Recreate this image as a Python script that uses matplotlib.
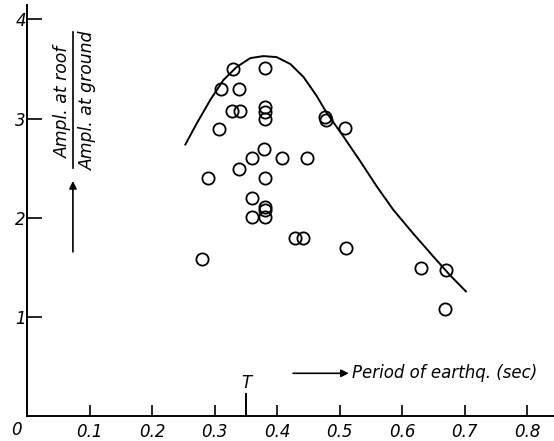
# plot.py
import numpy as np
import matplotlib
matplotlib.use("Agg")
import matplotlib.pyplot as plt

# periodo del terremoto (sec) y razon de amplitudes techo/suelo
period = [0.330, 0.381, 0.310, 0.339, 0.328, 0.341, 0.380, 0.380, 0.380, 0.307,
          0.477, 0.478, 0.509, 0.379, 0.360, 0.408, 0.448, 0.339, 0.290, 0.380,
          0.360, 0.380, 0.380, 0.359, 0.380, 0.429, 0.441, 0.510, 0.279,
          0.630, 0.670, 0.669]
ratio = [3.50, 3.51, 3.30, 3.30, 3.08, 3.08, 3.12, 3.07, 3.00, 2.90,
         3.02, 2.99, 2.91, 2.69, 2.60, 2.60, 2.60, 2.49, 2.40, 2.40,
         2.20, 2.11, 2.08, 2.01, 2.01, 1.80, 1.80, 1.70, 1.59,
         1.50, 1.48, 1.08]

# curva teorica
curve_x = [0.253, 0.271, 0.293, 0.314, 0.335, 0.357, 0.378, 0.399, 0.421, 0.442,
           0.463, 0.479, 0.506, 0.533, 0.559, 0.586, 0.618, 0.650, 0.677, 0.702]
curve_y = [2.74, 2.95, 3.19, 3.39, 3.52, 3.61, 3.63, 3.62, 3.55, 3.42,
           3.23, 3.06, 2.82, 2.57, 2.32, 2.08, 1.84, 1.61, 1.42, 1.26]

xticks = [0.1, 0.2, 0.3, 0.4, 0.5, 0.6, 0.7, 0.8]
xticklabels = ["0.1", "0.2", "0.3", "0.4", "0.5", "0.6", "0.7", "0.8"]
yticks = [1, 2, 3, 4]
yticklabels = ["1", "2", "3", "4"]
T_period = 0.35

fig = plt.figure(figsize=(5.54, 4.41), dpi=100)
ax = fig.add_axes([0.0493, 0.0556, 0.9507, 0.932])
ax.set_xlim(0, 0.843)
ax.set_ylim(0, 4.14)

ax.plot(curve_x, curve_y, color="black", lw=1.4)
ax.plot(period, ratio, "o", mfc="none", mec="black", ms=8.8, mew=1.3)

for s in ["top", "right"]:
    ax.spines[s].set_visible(False)
ax.spines["left"].set_linewidth(1.4)
ax.spines["bottom"].set_linewidth(1.4)

ax.set_xticks(xticks)
ax.set_xticklabels(xticklabels, fontstyle="italic", fontsize=12)
ax.set_yticks(yticks)
ax.set_yticklabels(yticklabels, fontstyle="italic", fontsize=12)
ax.tick_params(axis="x", direction="in", length=8, width=1.2, pad=5)
ax.tick_params(axis="y", direction="in", length=11, width=1.2, pad=1)

# origen
ax.text(-0.017, -0.136, "0", fontstyle="italic", fontsize=12, ha="center", va="center",
        clip_on=False)

# marca del periodo T
ax.plot([T_period, T_period], [0, 0.23], color="black", lw=1.4, clip_on=False)
ax.text(T_period, 0.34, "T", fontstyle="italic", fontsize=12, ha="center", va="center")

# etiqueta eje x con flecha
ax.annotate("", xy=(0.519, 0.435), xytext=(0.421, 0.435),
            arrowprops=dict(arrowstyle="-|>", color="black", lw=1.2, mutation_scale=11))
ax.text(0.519, 0.435, "Period of earthq. (sec)", fontstyle="italic", fontsize=12,
        ha="left", va="center")

# etiqueta eje y: fraccion rotada con flecha
ax.plot([0.073, 0.073], [2.50, 3.87], color="black", lw=1.2)
ax.text(0.057, 3.17, "Ampl. at roof", rotation=90, fontstyle="italic", fontsize=12.4,
        ha="center", va="center")
ax.text(0.097, 3.19, "Ampl. at ground", rotation=90, fontstyle="italic", fontsize=12.4,
        ha="center", va="center")
ax.annotate("", xy=(0.073, 2.40), xytext=(0.073, 1.63),
            arrowprops=dict(arrowstyle="-|>", color="black", lw=1.2, mutation_scale=11))

fig.savefig("out.png", dpi=100)
